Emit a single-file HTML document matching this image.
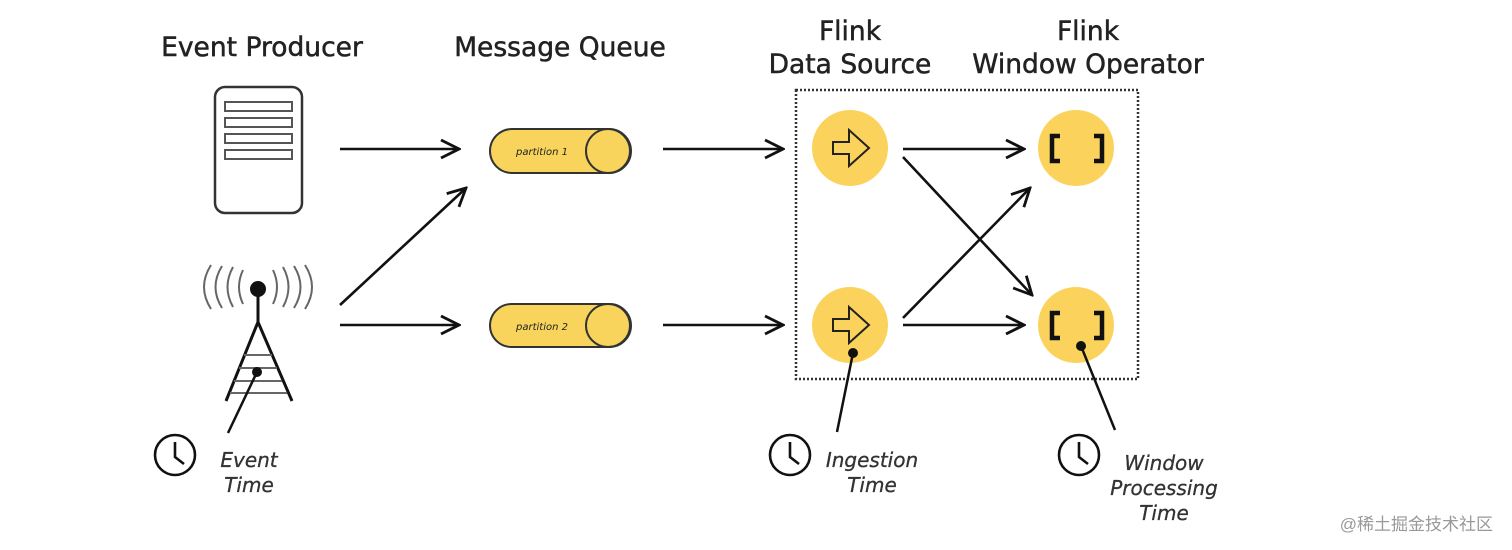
<!DOCTYPE html>
<html><head><meta charset="utf-8"><style>
html,body{margin:0;padding:0;background:#fff;width:1512px;height:550px;overflow:hidden}
svg{display:block}
text{font-family:"DejaVu Sans","Liberation Sans",sans-serif;fill:#222}
.t{font-size:26.5px;stroke:#222;stroke-width:0.5}
.i{font-size:20px;font-style:italic;fill:#333;stroke:#333;stroke-width:0.3}
</style></head><body>
<svg width="1512" height="550" viewBox="0 0 1512 550">
<defs>
<marker id="a" viewBox="0 0 22 22" refX="20" refY="11" markerWidth="22" markerHeight="22" markerUnits="userSpaceOnUse" orient="auto">
<path d="M2,2 L20,11 L2,20" fill="none" stroke="#111" stroke-width="2.8"/>
</marker>
</defs>
<g text-anchor="middle">
<text class="t" x="262" y="56">Event Producer</text>
<text class="t" x="560" y="56">Message Queue</text>
<text class="t" x="850" y="40">Flink</text>
<text class="t" x="850" y="73">Data Source</text>
<text class="t" x="1088" y="40">Flink</text>
<text class="t" x="1088" y="73">Window Operator</text>
</g>
<!-- server -->
<rect x="215" y="87" width="87" height="126" rx="10" fill="#fff" stroke="#333" stroke-width="2.5"/>
<g fill="#fff" stroke="#555" stroke-width="2">
<rect x="225" y="102" width="67" height="9"/><rect x="225" y="118" width="67" height="9"/>
<rect x="225" y="134" width="67" height="9"/><rect x="225" y="150" width="67" height="9"/>
</g>
<!-- antenna -->
<g fill="none" stroke="#666" stroke-width="2">
<path d="M211,265 Q197,287 211,309"/><path d="M222,266 Q209,287 222,308"/><path d="M233,267 Q222,287 233,307"/><path d="M243,270 Q235,287 243,304"/>
<path d="M305,265 Q319,287 305,309"/><path d="M294,266 Q307,287 294,308"/><path d="M283,267 Q294,287 283,307"/><path d="M273,270 Q281,287 273,304"/>
</g>
<circle cx="258" cy="289" r="8" fill="#111"/>
<g stroke="#111" stroke-width="3" fill="none">
<line x1="258" y1="295" x2="258" y2="322"/>
<path d="M226,401 L258,322 L292,401"/>
</g>
<g stroke="#666" stroke-width="2">
<line x1="244" y1="355" x2="272" y2="355"/><line x1="239" y1="368" x2="277" y2="368"/>
<line x1="234" y1="381" x2="282" y2="381"/><line x1="230" y1="393" x2="287" y2="393"/>
</g>
<circle cx="257" cy="372" r="5" fill="#111"/>
<line x1="257" y1="372" x2="228" y2="433" stroke="#111" stroke-width="2.5"/>
<!-- pills -->
<g stroke="#333" stroke-width="2" fill="#f8d45c">
<rect x="490" y="129" width="141" height="44" rx="22"/>
<ellipse cx="608" cy="151" rx="22" ry="22"/>
<rect x="490" y="304" width="141" height="43" rx="21.5"/>
<ellipse cx="608" cy="325.5" rx="22" ry="21.5"/>
</g>
<text x="542" y="155" font-size="10" font-style="italic" text-anchor="middle" fill="#444">partition 1</text>
<text x="542" y="330" font-size="10" font-style="italic" text-anchor="middle" fill="#444">partition 2</text>
<!-- arrows -->
<g stroke="#111" stroke-width="2.6" marker-end="url(#a)">
<line x1="340" y1="149" x2="459" y2="149"/>
<line x1="340" y1="305" x2="466" y2="188"/>
<line x1="340" y1="325" x2="459" y2="325"/>
<line x1="663" y1="149" x2="783" y2="149"/>
<line x1="663" y1="325" x2="783" y2="325"/>
<line x1="903" y1="149" x2="1024" y2="149"/>
<line x1="903" y1="157" x2="1032" y2="295"/>
<line x1="903" y1="318" x2="1030" y2="188"/>
<line x1="903" y1="325" x2="1024" y2="325"/>
</g>
<!-- dotted box -->
<rect x="796" y="90" width="342" height="289" fill="none" stroke="#333" stroke-width="2.5" stroke-dasharray="2,2"/>
<!-- circles -->
<g fill="#fbd35c">
<circle cx="850" cy="148" r="38"/><circle cx="850" cy="325" r="38"/>
<circle cx="1076" cy="148" r="38"/><circle cx="1076" cy="325" r="38"/>
</g>
<g fill="none" stroke="#222" stroke-width="2">
<path d="M833,142 L849,142 L849,130 L869,148 L849,166 L849,154 L833,154 Z"/>
<path d="M833,319 L849,319 L849,307 L869,325 L849,343 L849,331 L833,331 Z"/>
</g>
<g fill="none" stroke="#111" stroke-width="4.5">
<path d="M1060,136 L1052,136 L1052,161 L1060,161"/><path d="M1094,136 L1102,136 L1102,161 L1094,161"/>
<path d="M1060,313 L1052,313 L1052,338 L1060,338"/><path d="M1094,313 L1102,313 L1102,338 L1094,338"/>
</g>
<circle cx="853" cy="353" r="5" fill="#111"/>
<line x1="853" y1="353" x2="837" y2="432" stroke="#111" stroke-width="2.5"/>
<circle cx="1081" cy="346" r="5" fill="#111"/>
<line x1="1081" y1="346" x2="1115" y2="430" stroke="#111" stroke-width="2.5"/>
<!-- clocks -->
<g fill="none" stroke="#111" stroke-width="2.6">
<circle cx="175" cy="455" r="20"/><path d="M175,442 L175,457 L184,464"/>
<circle cx="790" cy="455" r="20"/><path d="M790,442 L790,457 L799,464"/>
<circle cx="1079" cy="455" r="20"/><path d="M1079,442 L1079,457 L1088,464"/>
</g>
<g text-anchor="middle">
<text class="i" x="249" y="467">Event</text>
<text class="i" x="249" y="492">Time</text>
<text class="i" x="872" y="467">Ingestion</text>
<text class="i" x="872" y="492">Time</text>
<text class="i" x="1164" y="470">Window</text>
<text class="i" x="1164" y="495">Processing</text>
<text class="i" x="1164" y="520">Time</text>
</g>
<text x="1493" y="530" text-anchor="end" font-size="17" fill="#999" style="font-family:'Liberation Sans','Noto Sans CJK SC',sans-serif;fill:#999">@稀土掘金技术社区</text>
</svg>
</body></html>
